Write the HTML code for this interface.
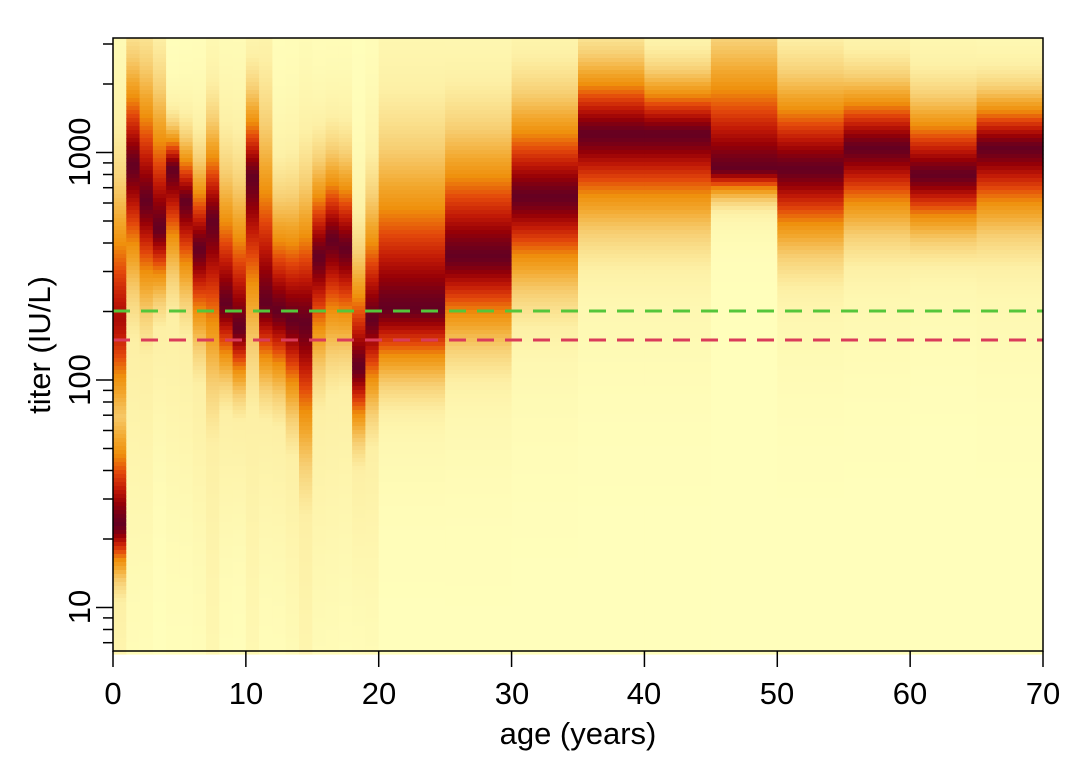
<!DOCTYPE html>
<html><head><meta charset="utf-8"><style>
body{margin:0;background:#fff;}
svg{display:block;font-family:"Liberation Sans",Arial,sans-serif;}
</style></head><body>
<svg id="s" width="1075" height="768" viewBox="0 0 1075 768" xmlns="http://www.w3.org/2000/svg">
<g id="heat"></g>
<line x1="113" y1="311" x2="1043" y2="311" stroke="#55C63A" stroke-width="3" stroke-dasharray="17,11"/>
<line x1="113" y1="340" x2="1043" y2="340" stroke="#DA3B5A" stroke-width="3" stroke-dasharray="17,11"/>
<rect x="113" y="38" width="930" height="613" fill="none" stroke="#000" stroke-width="1.5"/>
<g id="ax" stroke="#000" stroke-width="1.5"></g>
<g font-size="31" fill="#000" text-anchor="middle">
<text x="113" y="704">0</text><text x="246" y="704">10</text><text x="379" y="704">20</text><text x="512" y="704">30</text><text x="644" y="704">40</text><text x="777" y="704">50</text><text x="910" y="704">60</text><text x="1043" y="704">70</text>
<text x="578" y="744">age (years)</text>
<text transform="translate(90,607) rotate(-90)">10</text>
<text transform="translate(90,380) rotate(-90)">100</text>
<text transform="translate(90,152) rotate(-90)">1000</text>
<text transform="translate(50,345) rotate(-90)">titer (IU/L)</text>
</g>
</svg>
<script>
var stops=[[0,[255,254,187]],[0.15,[253,240,166]],[0.3,[247,207,115]],[0.45,[242,166,43]],[0.55,[239,144,12]],[0.68,[227,72,11]],[0.8,[194,26,6]],[0.9,[150,0,6]],[1,[101,0,33]]];
function col(v){v=Math.max(0,Math.min(1,v));for(var i=1;i<stops.length;i++){if(v<=stops[i][0]){var a=stops[i-1],b=stops[i],t=(v-a[0])/(b[0]-a[0]);return 'rgb('+[0,1,2].map(function(k){return Math.round(a[1][k]+(b[1][k]-a[1][k])*t)}).join(',')+')';}}return 'rgb(101,0,33)';}
var w=930/70, X=function(a){return 113+a*w;};
function f(d){d=Math.abs(d);return Math.exp(-0.605*Math.pow(d,1.46));}
var cols=[
[0,1,[[275,80,60,0.85],[448,60,30,1]]],
[1,2,[[145,58,67,1]]],[2,3,[[175,72,60,1]]],[3,4,[[198,74,39,1]]],[4,5,[[148,24,57,1]]],
[5,6,[[175,34,53,1]]],[6,7,[[215,47,53,1]]],[7,8,[[192,54,86,1]]],[8,9,[[262,70,42,1]]],
[9,10,[[282,76,36,1]]],[10,11,[[155,47,90,1]]],[11,12,[[262,95,45,1]]],[12,13,[[268,60,45,1]]],
[13,14,[[275,65,53,1]]],[14,15,[[278,74,75,1]]],[15,16,[[222,51,60,1]]],[16,17,[[208,48,60,1]]],
[17,18,[[215,50,55,1]]],[18,19,[[315,60,40,1]]],[19,20,[[275,65,50,1]]],
[20,25,[[308,100,48,1]]],[25,30,[[256,80,58,1]]],[30,35,[[197,65,60,1]]],[35,40,[[134,50,62,1]]],
[40,45,[[134,40,62,1]]],[45,50,[[169,80,20,1]]],[50,55,[[169,60,55,1]]],[55,60,[[148,45,55,1]]],
[60,65,[[175,50,42,1]]],[65,70,[[148,38,55,1]]]];
cols.forEach(function(c){if(c[0]<20){c[2].forEach(function(p){p[0]=35+(p[0]-35)*1.186;p[1]*=1.186;p[2]*=1.186;});}});
var h='';
cols.forEach(function(c){
 var x0=X(c[0]),x1=X(c[1]);
 for(var y=38;y<651;y+=4){
  var yc=y+2,v=0;
  c[2].forEach(function(p){var s=yc<p[0]?p[1]:p[2];var d=(yc-p[0])/s;v=Math.max(v,p[3]*f(d));
   if(c[0]<20&&yc>p[0]){var d2=(yc-p[0])/(s*3);v=Math.max(v,0.2*Math.exp(-d2*d2/2));}
   if(c[0]>=20&&yc>p[0]){var d2=(yc-p[0])/(s*2.2);v=Math.max(v,0.15*Math.exp(-d2*d2/2));}
  });
  h+='<rect x="'+x0.toFixed(1)+'" y="'+y+'" width="'+(x1-x0+0.6).toFixed(1)+'" height="4.6" fill="'+col(v)+'"/>';
 }
});
document.getElementById('heat').innerHTML=h;
var a='';
for(var i=0;i<=70;i+=10){a+='<line x1="'+X(i)+'" y1="651" x2="'+X(i)+'" y2="667"/>';}
var Y=function(t){return 380-(Math.log10(t)-2)*227.5;};
[7,8,9,20,30,40,50,60,70,80,90,200,300,400,500,600,700,800,900,2000,3000].forEach(function(t){var y=Y(t);a+='<line x1="103" y1="'+y.toFixed(1)+'" x2="113" y2="'+y.toFixed(1)+'"/>';});
[10,100,1000].forEach(function(t){var y=Y(t);a+='<line x1="96" y1="'+y+'" x2="113" y2="'+y+'"/>';});
document.getElementById('ax').innerHTML=a;
</script>
</body></html>
